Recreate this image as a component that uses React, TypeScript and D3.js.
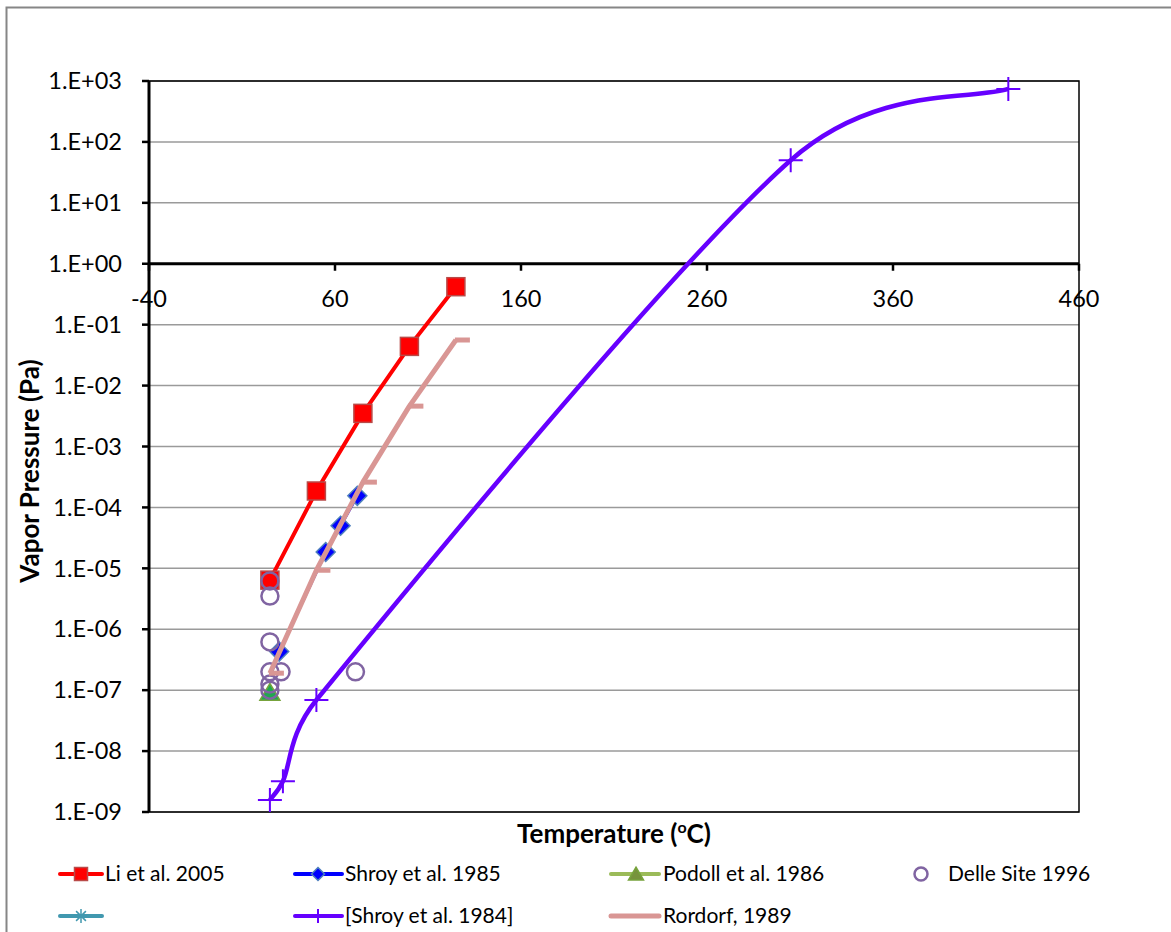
import React from 'react';
import * as d3 from 'd3';

// temperatures (°C) and vapour pressures (Pa)
const liT = [25, 50, 75, 100, 125];
const liP = [6.4e-6, 1.86e-4, 3.5e-3, 4.4e-2, 0.42];

const shroy85T = [30, 55, 63, 72];
const shroy85P = [4.3e-7, 1.85e-5, 5.0e-5, 1.55e-4];

const podollT = [25];
const podollP = [9.2e-8];

const delleT = [25, 25, 25, 25, 31, 25, 25, 71];
const delleP = [6.2e-6, 3.5e-6, 6.2e-7, 2.0e-7, 2.0e-7, 1.26e-7, 1.0e-7, 2.0e-7];

const shroy84T = [25, 32, 50, 305, 422];
const shroy84P = [1.58e-9, 3.2e-9, 6.9e-8, 50, 740];

const rordorfT = [25, 50, 75, 100, 125];
const rordorfP = [1.9e-7, 9.3e-6, 2.6e-4, 4.6e-3, 5.6e-2];

const xTicks = [-40, 60, 160, 260, 360, 460];
const yTicks = [1e-9, 1e-8, 1e-7, 1e-6, 1e-5, 1e-4, 1e-3, 1e-2, 1e-1, 1e0, 1e1, 1e2, 1e3];
const yTickLabels = ['1.E-09', '1.E-08', '1.E-07', '1.E-06', '1.E-05', '1.E-04', '1.E-03', '1.E-02', '1.E-01', '1.E+00', '1.E+01', '1.E+02', '1.E+03'];

const font = 'Lato, "Open Sans", sans-serif';

const RED = '#ff0000';
const BLUE = '#0000ff';
const GREEN = '#9bbb59';
const PURPLE = '#8064a2';
const TEAL = '#4198af';
const VIOLET = '#6600ff';
const ROSE = '#d99694';

function zip(ts: number[], ps: number[]) {
  return ts.map((t, i) => [t, ps[i]] as [number, number]);
}

// excel-like smoothed line: bezier with (P2-P0)/6 tangents, clamped to half the segment
function excelSmooth(pts: [number, number][]) {
  const p = d3.path();
  const dist = (a: number[], b: number[]) => Math.hypot(b[0] - a[0], b[1] - a[1]);
  p.moveTo(pts[0][0], pts[0][1]);
  for (let i = 0; i < pts.length - 1; i++) {
    const P0 = pts[Math.max(0, i - 1)], P1 = pts[i], P2 = pts[i + 1], P3 = pts[Math.min(pts.length - 1, i + 2)];
    const d12 = dist(P1, P2), d02 = dist(P0, P2), d13 = dist(P1, P3);
    const f1 = d02 > 0 ? Math.min(1 / 6, 0.5 * d12 / d02) : 0;
    const f2 = d13 > 0 ? Math.min(1 / 6, 0.5 * d12 / d13) : 0;
    p.bezierCurveTo(
      P1[0] + (P2[0] - P0[0]) * f1, P1[1] + (P2[1] - P0[1]) * f1,
      P2[0] - (P3[0] - P1[0]) * f2, P2[1] - (P3[1] - P1[1]) * f2,
      P2[0], P2[1]
    );
  }
  return p.toString();
}

export default function App() {
  const W = 1171, H = 932;
  const x = d3.scaleLinear().domain([-40, 460]).range([149, 1079]);
  const y = d3.scaleLog().domain([1e-9, 1e3]).range([812, 81]);

  const straight = d3.line<[number, number]>().x(d => x(d[0])).y(d => y(d[1]));

  const li = zip(liT, liP);
  const s85 = zip(shroy85T, shroy85P);
  const pod = zip(podollT, podollP);
  const del = zip(delleT, delleP);
  const s84 = zip(shroy84T, shroy84P);
  const ror = zip(rordorfT, rordorfP);

  const x0 = x.range()[0], x1 = x.range()[1];
  const yTop = y.range()[1], yBot = y.range()[0];
  const yAxisAt = y(1);

  const tickFont = 23.5;
  const legendFont = 21;
  const titleFont = 26;

  const square = (cx: number, cy: number, s: number, key?: any) => (
    <rect key={key} x={cx - s / 2} y={cy - s / 2} width={s} height={s} fill={RED} stroke="#b94a48" strokeWidth={1.5} />
  );
  const diamond = (cx: number, cy: number, s: number, key?: any) => (
    <path key={key} d={`M${cx},${cy - s / 2}L${cx + s / 2},${cy}L${cx},${cy + s / 2}L${cx - s / 2},${cy}Z`} fill={BLUE} stroke="#4f81bd" strokeWidth={1.5} />
  );
  const triangle = (cx: number, cy: number, s: number, fill: string, key?: any) => (
    <path key={key} d={`M${cx},${cy - s * 0.45}L${cx + s / 2},${cy + s * 0.4}L${cx - s / 2},${cy + s * 0.4}Z`} fill={fill} stroke="#77a33c" strokeWidth={1.5} />
  );
  const plus = (cx: number, cy: number, s: number, key?: any) => (
    <path key={key} d={`M${cx - s / 2},${cy}H${cx + s / 2}M${cx},${cy - s / 2}V${cy + s / 2}`} stroke={VIOLET} strokeWidth={2} />
  );
  const star = (cx: number, cy: number, s: number) => (
    <path d={`M${cx - s / 2},${cy}H${cx + s / 2}M${cx},${cy - s / 2}V${cy + s / 2}M${cx - s * 0.35},${cy - s * 0.35}L${cx + s * 0.35},${cy + s * 0.35}M${cx - s * 0.35},${cy + s * 0.35}L${cx + s * 0.35},${cy - s * 0.35}`} stroke={TEAL} strokeWidth={1.5} />
  );

  const legendRows = [874, 916];
  const legendCols = [60, 295, 611];

  return (
    <svg width={W} height={H} style={{ position: 'absolute', left: 0, top: 0, background: '#fff' }} fontFamily={font}>
      <rect x={6.5} y={7.5} width={1300} height={1000} fill="#fff" stroke="#868686" strokeWidth={2} />

      {/* gridlines */}
      {yTicks.map(t => (
        <line key={t} x1={x0} x2={x1} y1={y(t)} y2={y(t)} stroke="#9a9a9a" strokeWidth={1.5} />
      ))}
      {/* plot border */}
      <rect x={x0} y={yTop} width={x1 - x0} height={yBot - yTop} fill="none" stroke="#000" strokeWidth={1.5} />

      {/* y axis */}
      <line x1={x0} x2={x0} y1={yTop} y2={yBot} stroke="#000" strokeWidth={3} />
      {yTicks.map((t, i) => (
        <g key={t}>
          <line x1={x0 - 7} x2={x0} y1={y(t)} y2={y(t)} stroke="#000" strokeWidth={2.5} />
          <text x={122} y={y(t)} dy="0.35em" textAnchor="end" fontSize={tickFont} fill="#000">{yTickLabels[i]}</text>
        </g>
      ))}

      {/* x axis crossing at 1 Pa */}
      <line x1={x0} x2={x1} y1={yAxisAt} y2={yAxisAt} stroke="#000" strokeWidth={3} />
      {xTicks.map(t => (
        <g key={t}>
          <line x1={x(t)} x2={x(t)} y1={yAxisAt} y2={yAxisAt + 7} stroke="#000" strokeWidth={2.5} />
          <text x={x(t)} y={299} dy="0.35em" textAnchor="middle" fontSize={tickFont} fill="#000">{t}</text>
        </g>
      ))}

      {/* Li et al. 2005 */}
      <path d={straight(li) || ''} fill="none" stroke={RED} strokeWidth={4} />
      {li.map((d, i) => square(x(d[0]), y(d[1]), 18, i))}

      {/* Shroy et al. 1985 */}
      <path d={straight(s85) || ''} fill="none" stroke={BLUE} strokeWidth={3} />
      {s85.map((d, i) => diamond(x(d[0]), y(d[1]), 19, i))}

      {/* Podoll et al. 1986 */}
      {pod.map((d, i) => triangle(x(d[0]), y(d[1]), 20, '#1fa84f', i))}

      {/* Delle Site 1996 */}
      {del.map((d, i) => (
        <circle key={i} cx={x(d[0])} cy={y(d[1])} r={8.5} fill="none" stroke={PURPLE} strokeWidth={2.5} />
      ))}

      {/* Shroy et al. 1984 */}
      <path d={excelSmooth(s84.map(d => [x(d[0]), y(d[1])] as [number, number]))} fill="none" stroke={VIOLET} strokeWidth={4.5} />
      {s84.map((d, i) => plus(x(d[0]), y(d[1]), 24, i))}

      {/* Rordorf, 1989 */}
      <path d={straight(ror) || ''} fill="none" stroke={ROSE} strokeWidth={5} strokeLinejoin="round" />
      {ror.map((d, i) => (
        <line key={i} x1={x(d[0]) - 1} x2={x(d[0]) + 14} y1={y(d[1])} y2={y(d[1])} stroke={ROSE} strokeWidth={5} />
      ))}

      {/* axis titles */}
      <text x={614} y={834} dy="0.35em" textAnchor="middle" fontSize={titleFont} fontWeight="bold" fill="#000">
        Temperature (<tspan fontSize={16} dy={-10}>o</tspan><tspan dy={10}>C)</tspan>
      </text>
      <text transform="translate(30,471) rotate(-90)" dy="0.35em" textAnchor="middle" fontSize={titleFont} fontWeight="bold" fill="#000">
        Vapor Pressure (Pa)
      </text>

      {/* legend */}
      <g fontSize={legendFont} fill="#000">
        <line x1={legendCols[0]} x2={legendCols[0] + 42} y1={legendRows[0]} y2={legendRows[0]} stroke={RED} strokeWidth={4} strokeLinecap="round" />
        {square(legendCols[0] + 21, legendRows[0], 13)}
        <text x={legendCols[0] + 45} y={legendRows[0]} dy="0.35em">Li et al. 2005</text>

        <line x1={legendCols[1]} x2={legendCols[1] + 47} y1={legendRows[0]} y2={legendRows[0]} stroke={BLUE} strokeWidth={4} strokeLinecap="round" />
        {diamond(legendCols[1] + 23, legendRows[0], 13)}
        <text x={legendCols[1] + 50} y={legendRows[0]} dy="0.35em">Shroy et al. 1985</text>

        <line x1={legendCols[2]} x2={legendCols[2] + 48} y1={legendRows[0]} y2={legendRows[0]} stroke={GREEN} strokeWidth={4} strokeLinecap="round" />
        {triangle(legendCols[2] + 25, legendRows[0], 15, '#77933c')}
        <text x={legendCols[2] + 52} y={legendRows[0]} dy="0.35em">Podoll et al. 1986</text>

        <circle cx={921} cy={legendRows[0]} r={6.5} fill="none" stroke={PURPLE} strokeWidth={2.5} />
        <text x={948} y={legendRows[0]} dy="0.35em">Delle Site 1996</text>

        <line x1={legendCols[0]} x2={legendCols[0] + 42} y1={legendRows[1]} y2={legendRows[1]} stroke={TEAL} strokeWidth={4} strokeLinecap="round" />
        {star(legendCols[0] + 21, legendRows[1], 14)}

        <line x1={legendCols[1]} x2={legendCols[1] + 47} y1={legendRows[1]} y2={legendRows[1]} stroke={VIOLET} strokeWidth={4} strokeLinecap="round" />
        {plus(legendCols[1] + 23, legendRows[1], 14)}
        <text x={legendCols[1] + 50} y={legendRows[1]} dy="0.35em">[Shroy et al. 1984]</text>

        <line x1={legendCols[2]} x2={legendCols[2] + 48} y1={legendRows[1]} y2={legendRows[1]} stroke={ROSE} strokeWidth={5} strokeLinecap="round" />
        <text x={legendCols[2] + 52} y={legendRows[1]} dy="0.35em">Rordorf, 1989</text>
      </g>
    </svg>
  );
}
